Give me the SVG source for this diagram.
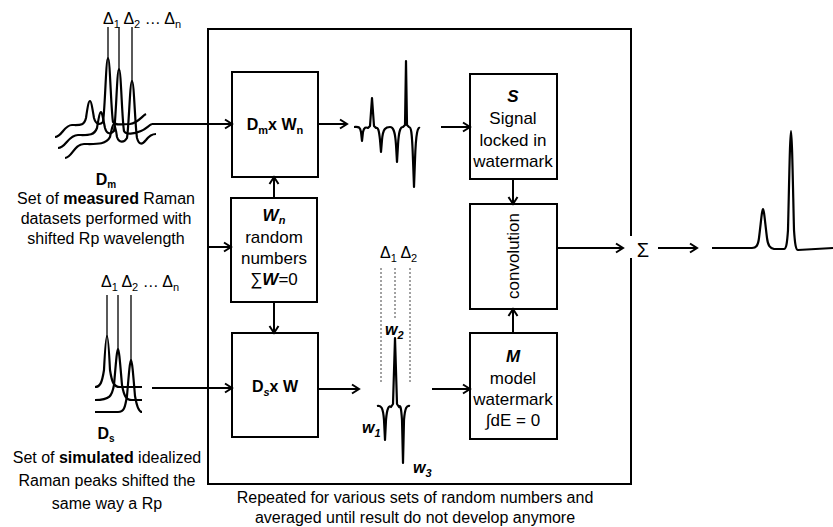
<svg xmlns="http://www.w3.org/2000/svg" width="833" height="527" viewBox="0 0 833 527">
<defs>
<marker id="arr" markerUnits="userSpaceOnUse" markerWidth="12" markerHeight="12" refX="10" refY="6" orient="auto">
<path d="M3,1.5 L10,6 L3,10.5" fill="none" stroke="#000" stroke-width="2"/>
</marker>
<style>
text{font-family:"Liberation Sans",Arial,sans-serif;fill:#000}
.lbl{font-size:16px;text-anchor:middle}
.box{fill:#fff;stroke:#000;stroke-width:2}
.bt{font-size:17px;text-anchor:middle}
.b{font-weight:bold}
.bi{font-weight:bold;font-style:italic}
.conn{fill:none;stroke:#000;stroke-width:2}
.sig{fill:none;stroke:#000;stroke-width:2.2;stroke-linejoin:round}
.thin{fill:none;stroke:#000;stroke-width:1.3}
.dash{fill:none;stroke:#444;stroke-width:1;stroke-dasharray:2,2}
</style>
</defs>
<rect width="833" height="527" fill="#fff"/>

<!-- measured spectra Dm -->
<g id="measured">
<text class="lbl" x="103" y="24" style="text-anchor:start">Δ<tspan font-size="11" dy="4">1</tspan><tspan dy="-4"> Δ</tspan><tspan font-size="11" dy="4">2</tspan><tspan dy="-4"> … Δ</tspan><tspan font-size="11" dy="4">n</tspan></text>
<line class="thin" x1="108" y1="27" x2="108" y2="60"/>
<line class="thin" x1="119" y1="27" x2="119" y2="71"/>
<line class="thin" x1="132" y1="27" x2="132" y2="82"/>
<path class="sig" d="M55,137 C62,137 64,125 72,125 C80,125 84,126 86,118 C88,104 89,101 90,101 C91,101 92,106 94,118 C96,125 100,125 103,122 C105,110 106,58 108,58 C110,58 111,110 113,122 C115,126 122,124 130,124 C138,123 142,116 146,114"/>
<path class="sig" d="M58,148 C66,148 68,135 78,135 C88,135 94,136 97,128 C99,116 100,112 101,112 C102,112 103,118 105,128 C107,135 111,134 114,131 C116,120 117,69 119,69 C121,69 122,120 124,131 C126,135 134,134 141,131 C146,129 149,125 152,124"/>
<path class="sig" d="M65,158 C72,158 74,144 84,144 C96,144 106,145 110,137 C112,128 113,124 114,124 C115,124 116,130 117,137 C119,143 124,143 127,138 C129,125 130,81 132,81 C134,81 135,125 137,138 C139,145 142,145 146,140 C149,136 152,134 156,134"/>
</g>

<g id="Dm-label">
<text class="lbl b" x="106" y="185">D<tspan font-size="10" dy="3">m</tspan></text>
<text class="lbl" x="106" y="204">Set of <tspan class="b">measured</tspan> Raman</text>
<text class="lbl" x="106" y="224">datasets performed with</text>
<text class="lbl" x="106" y="244">shifted Rp wavelength</text>
</g>

<!-- simulated spectra Ds -->
<g id="simulated">
<text class="lbl" x="101" y="287" style="text-anchor:start">Δ<tspan font-size="11" dy="4">1</tspan><tspan dy="-4"> Δ</tspan><tspan font-size="11" dy="4">2</tspan><tspan dy="-4"> … Δ</tspan><tspan font-size="11" dy="4">n</tspan></text>
<line class="thin" x1="107" y1="295" x2="107" y2="337"/>
<line class="thin" x1="118" y1="295" x2="118" y2="350"/>
<line class="thin" x1="131" y1="295" x2="131" y2="361"/>
<path class="sig" d="M95,387 C100,387 102,383 104,370 C105,350 106,336 107,336 C108,336 109,350 110,370 C112,383 114,387 120,387 L142,387"/>
<path class="sig" d="M95,400 C110,400 112,396 114,385 C116,362 117,349 118,349 C119,349 120,362 122,385 C124,396 126,400 132,400 L142,400"/>
<path class="sig" d="M95,412 L118,412 C124,412 125,408 127,396 C129,372 130,360 131,360 C132,360 133,372 135,396 C137,408 139,412 142,412"/>
</g>

<g id="Ds-label">
<text class="lbl b" x="106" y="439">D<tspan font-size="10" dy="3">s</tspan></text>
<text class="lbl" x="107" y="463">Set of <tspan class="b">simulated</tspan> idealized</text>
<text class="lbl" x="107" y="486">Raman peaks shifted the</text>
<text class="lbl" x="107" y="509">same way a Rp</text>
</g>

<!-- frame -->
<g id="frame">
<path class="conn" d="M631,236 L631,29 L208,29 L208,484 L631,484 L631,258"/>
<text class="lbl" x="415" y="503">Repeated for various sets of random numbers and</text>
<text class="lbl" x="415" y="523">averaged until result do not develop anymore</text>
</g>

<g id="DmxWn">
<rect class="box" x="232" y="72" width="86" height="105"/>
<text class="lbl b" x="275" y="130">D<tspan font-size="11" dy="4">m</tspan><tspan dy="-4">x W</tspan><tspan font-size="11" dy="4">n</tspan></text>
</g>

<g id="Wn">
<rect class="box" x="231" y="198" width="86" height="104"/>
<text class="bt bi" x="274" y="221">W<tspan font-size="11" dy="3">n</tspan></text>
<text class="bt" x="274" y="243">random</text>
<text class="bt" x="274" y="264">numbers</text>
<text class="bt" x="274" y="285">∑<tspan class="bi">W</tspan>=0</text>
</g>

<g id="DsxW">
<rect class="box" x="232" y="333" width="86" height="104"/>
<text class="lbl b" x="275" y="392">D<tspan font-size="11" dy="4" font-style="italic">s</tspan><tspan dy="-4">x W</tspan></text>
</g>

<g id="S">
<rect class="box" x="470" y="74" width="87" height="105"/>
<text class="bt bi" x="513" y="102">S</text>
<text class="bt" x="513" y="124">Signal</text>
<text class="bt" x="513" y="146">locked in</text>
<text class="bt" x="513" y="167">watermark</text>
</g>

<g id="convolution">
<rect class="box" x="470" y="204" width="87" height="105"/>
<text class="bt" transform="translate(519,256) rotate(-90)" x="0" y="0">convolution</text>
</g>

<g id="M">
<rect class="box" x="470" y="333" width="87" height="106"/>
<text class="bt bi" x="513" y="362">M</text>
<text class="bt" x="513" y="384">model</text>
<text class="bt" x="513" y="405">watermark</text>
<text class="bt" x="513" y="426">∫dE = 0</text>
</g>

<!-- intermediate signals -->
<g id="signal-m">
<path class="sig" d="M354,127 C358,127 360,126 361,132 L362,141 L363,132 C364,127 366,127 368,128 L370,126 L372,98 L374,126 L376,128 C378,127 379,130 380,140 L381,152 L382,140 C383,128 386,127 390,127 C393,127 395,130 396,145 L397,162 L398,145 C399,128 401,127 403,127 L405,125 L406,61 L407,125 L409,127 C411,127 412,130 413,160 L414,187 L415,160 C416,130 418,127 420,128"/>
</g>

<g id="signal-s">
<text class="lbl" x="380" y="258" style="text-anchor:start">Δ<tspan font-size="11" dy="4">1</tspan><tspan dy="-4"> Δ</tspan><tspan font-size="11" dy="4">2</tspan></text>
<line class="dash" x1="381" y1="268" x2="381" y2="382"/>
<line class="dash" x1="395" y1="268" x2="395" y2="320"/>
<line class="dash" x1="410" y1="268" x2="410" y2="382"/>
<text class="lbl bi" x="385" y="335" style="text-anchor:start">w<tspan font-size="11" dy="4">2</tspan></text>
<text class="lbl bi" x="362" y="433" style="text-anchor:start">w<tspan font-size="11" dy="4">1</tspan></text>
<text class="lbl bi" x="413" y="473" style="text-anchor:start">w<tspan font-size="11" dy="4">3</tspan></text>
<path class="sig" d="M377,406 C381,405 383,407 384,420 L385,440 L386,420 C387,408 389,405 391,407 L393,404 L395,338 L397,404 L399,407 C400,405 401,405 402,420 L403,463 L404,420 C405,407 407,405 410,406"/>
</g>

<g id="sum">
<text x="643" y="257" font-size="20" text-anchor="middle">Σ</text>
</g>

<g id="result">
<path class="sig" d="M712,248 L752,248 C756,248 758,246 759,238 C761,222 762,209 763,209 C764,209 765,222 767,238 C768,246 770,248 774,249 L784,249 C786,249 787,245 788,230 C789,190 790,131 791,131 C792,131 793,190 794,230 C795,245 796,250 798,250 L833,248"/>
</g>

<g id="connectors">
<line class="conn" x1="152" y1="124" x2="232" y2="124" marker-end="url(#arr)"/>
<line class="conn" x1="152" y1="388" x2="232" y2="388" marker-end="url(#arr)"/>
<line class="conn" x1="208" y1="247" x2="231" y2="247" marker-end="url(#arr)"/>
<line class="conn" x1="318" y1="124" x2="347" y2="124" marker-end="url(#arr)"/>
<line class="conn" x1="274" y1="198" x2="274" y2="177" marker-end="url(#arr)"/>
<line class="conn" x1="274" y1="302" x2="274" y2="333" marker-end="url(#arr)"/>
<line class="conn" x1="318" y1="389" x2="359" y2="389" marker-end="url(#arr)"/>
<line class="conn" x1="441" y1="127" x2="470" y2="127" marker-end="url(#arr)"/>
<line class="conn" x1="432" y1="389" x2="470" y2="389" marker-end="url(#arr)"/>
<line class="conn" x1="513" y1="179" x2="513" y2="204" marker-end="url(#arr)"/>
<line class="conn" x1="513" y1="333" x2="513" y2="309" marker-end="url(#arr)"/>
<line class="conn" x1="557" y1="248" x2="623" y2="248" marker-end="url(#arr)"/>
<line class="conn" x1="658" y1="248" x2="697" y2="248" marker-end="url(#arr)"/>
</g>
</svg>
